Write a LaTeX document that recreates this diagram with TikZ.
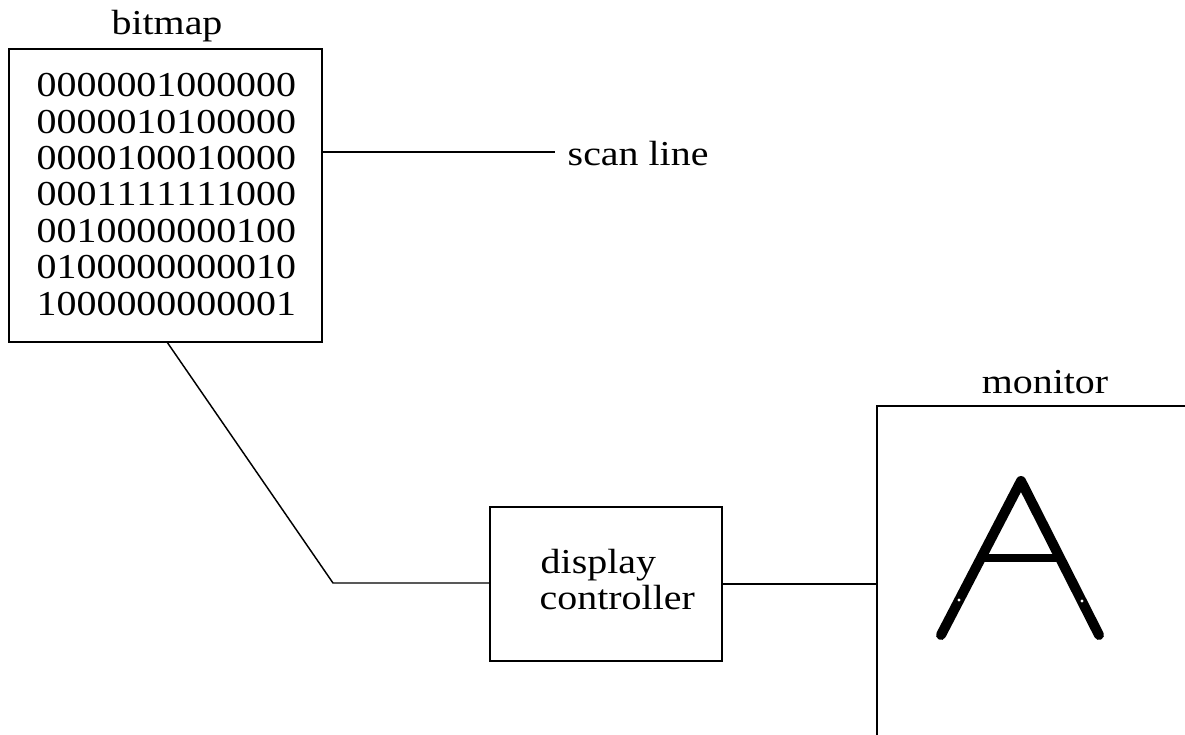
\documentclass[tikz,border=0pt]{standalone}
\usepackage{fontspec}
\setmainfont{Liberation Serif}[FakeStretch=1.14,Kerning=Off]
\begin{document}
\begin{tikzpicture}[x=0.75pt,y=-0.75pt,
  line width=1.1pt,
  txt/.style={inner sep=0pt,font=\fontsize{26.25}{30}\selectfont},
  boxstyle/.style={draw,inner sep=0pt,line width=1.1pt},
  glyph/.style={line width=7.5pt,line cap=round,line join=round}]
\useasboundingbox (0,0) rectangle (1185,735);
% bitmap
\node[txt,anchor=base] (bmlabel) at (167,35) {bitmap};
\node[boxstyle,minimum width=313*0.75pt,minimum height=293*0.75pt] (bitmap) at (165.5,195.5) {};
\foreach \r/\s [count=\i from 0] in {r1/0000001000000,r2/0000010100000,r3/0000100010000,r4/0001111111000,r5/0010000000100,r6/0100000000010,r7/1000000000001}{
  \node[txt,anchor=base west] (\r) at (36,96.7+36.4*\i) {\s};
}
% scan line
\coordinate (scanend) at (555,152);
\node[txt,anchor=base west] (scan) at (567,165) {scan line};
\draw (bitmap.east |- scanend) -- (scanend);
% display controller
\node[boxstyle,minimum width=232*0.75pt,minimum height=154*0.75pt] (ctrl) at (606,584) {};
\node[txt,anchor=base west] (ctrlA) at (540,573) {display};
\node[txt,anchor=base west] (ctrlB) at (539,609) {controller};
% monitor
\coordinate (monbl) at (877,735);
\coordinate (montl) at (877,406);
\coordinate (montr) at (1185,406);
\draw[line width=1.1pt] (monbl) -- (montl) -- (montr);
\node[txt,anchor=base] (monlabel) at (1045,393) {monitor};
% connectors
\coordinate (bend) at (333,583);
\draw (167,342) -- (bend) -- (bend -| ctrl.west);
\draw (ctrl.east) -- (ctrl.east -| montl);
% letter A
\coordinate (apex) at (1021,481);
\coordinate (lfoot) at (941,635);
\coordinate (rfoot) at (1099,635);
\draw[glyph] (lfoot) -- (apex) -- (rfoot);
\draw[line width=6pt] (981,558) -- (1060,558);
\fill[white] (959,600) circle (1.6);
\fill[white] (1082,601) circle (1.6);
\end{tikzpicture}
\end{document}
